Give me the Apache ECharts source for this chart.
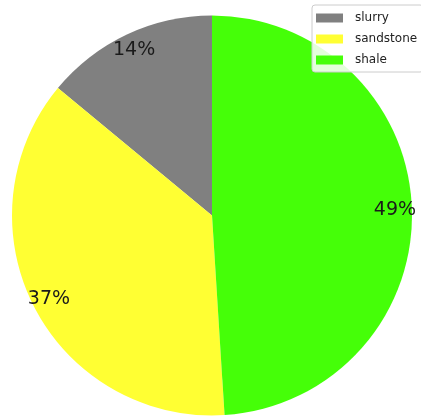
<!DOCTYPE html>
<html>
<head>
<meta charset="utf-8">
<script src="https://cdn.jsdelivr.net/npm/echarts@6/dist/echarts.min.js"></script>
<style>
  html, body { margin: 0; padding: 0; background: #ffffff; }
  #chart { width: 421px; height: 416px; }
</style>
</head>
<body>
<div id="chart"></div>
<script>
// Rock type shares (percent)
const categories = ['slurry', 'sandstone', 'shale'];
const shares = [14, 37, 49];
const colors = ['#808080', '#ffff33', '#45ff08'];

const pieData = categories.map((name, i) => ({
  name: name,
  value: shares[i],
  itemStyle: { color: colors[i] }
}));

const chart = echarts.init(document.getElementById('chart'), null, { renderer: 'canvas' });

chart.setOption({
  animation: false,
  backgroundColor: '#ffffff',
  legend: {
    data: categories,
    orient: 'vertical',
    left: 312,
    top: 5,
    padding: [6, 6, 5, 4],
    itemWidth: 27,
    itemHeight: 9,
    itemGap: 7,
    icon: 'rect',
    backgroundColor: 'rgba(255,255,255,0.85)',
    borderColor: '#cccccc',
    borderWidth: 1,
    borderRadius: 3,
    selectedMode: false,
    textStyle: {
      fontFamily: 'DejaVu Sans',
      fontSize: 12,
      lineHeight: 14,
      color: '#222222',
      padding: [0, 0, 0, 7]
    }
  },
  series: [
    {
      // filled wedges
      type: 'pie',
      center: [212, 215.5],
      radius: [0, 200],
      startAngle: 90,
      clockwise: false,
      silent: true,
      label: { show: false },
      labelLine: { show: false },
      itemStyle: { borderWidth: 0 },
      emphasis: { disabled: true },
      data: pieData
    },
    {
      // percentage labels placed at 0.9 of the radius
      type: 'pie',
      center: [212, 215.5],
      radius: [160, 200],
      startAngle: 90,
      clockwise: false,
      silent: true,
      itemStyle: { color: 'rgba(0,0,0,0)', borderWidth: 0 },
      emphasis: { disabled: true },
      label: {
        show: true,
        position: 'inside',
        formatter: (p) => Math.round(p.percent) + '%',
        fontFamily: 'DejaVu Sans',
        fontSize: 19,
        color: '#1a1a1a',
        padding: [4, 0, 0, 0]
      },
      labelLine: { show: false },
      data: categories.map((name, i) => ({ name: name, value: shares[i] }))
    }
  ]
});
</script>
</body>
</html>
